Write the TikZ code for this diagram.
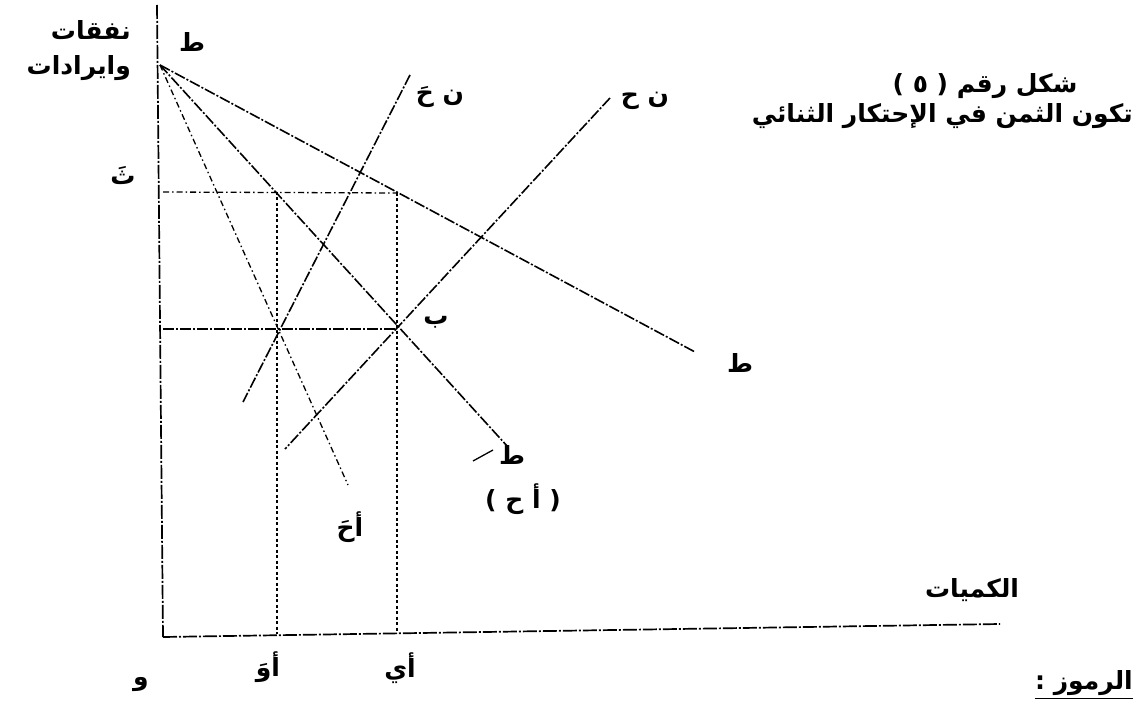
\documentclass[tikz,border=0pt]{standalone}
\usepackage{fontspec}
\newfontfamily\arabicfont[Script=Arabic]{DejaVu Sans}
\TeXXeTstate=1
\newcommand{\ar}[1]{\arabicfont\bfseries\beginR #1\endR}
\begin{document}
\begin{tikzpicture}[x=1pt,y=-1pt,
  curve/.style={line width=1.6pt,dash pattern=on 11pt off 2pt on 2pt off 2pt},
  thin curve/.style={line width=1.3pt,dash pattern=on 6pt off 3pt on 1.5pt off 3pt},
  guide/.style={line width=1.4pt,dash pattern=on 3pt off 2.5pt},
  axis/.style={line width=1.7pt,dash pattern=on 14pt off 2pt on 2pt off 2pt},
  lbl/.style={font=\fontsize{25}{28}\selectfont, inner sep=0pt}]
\useasboundingbox (0,0) rectangle (1137,711);
% key points
\coordinate (Ytop) at (157,5);
\coordinate (O) at (163,637);
\coordinate (Xend) at (1000,624);
\coordinate (T) at (160,65);
\coordinate (Dend) at (695,352);
\coordinate (MRend) at (508,447);
\coordinate (Send) at (348,485);
\coordinate (MCatop) at (410,75);
\coordinate (MCabot) at (243,402);
\coordinate (MCbtop) at (610,98);
\coordinate (MCbbot) at (285,449);
\coordinate (P1) at (163,192);
\coordinate (Q1) at (397,193);
\coordinate (P2) at (163,329);
\coordinate (B) at (397,329);
\coordinate (V1top) at (277,192);
\coordinate (V1bot) at (277,634);
\coordinate (V2bot) at (397,633);
% axes
\draw[axis] (Ytop) -- (O);
\draw[axis] (O) -- (Xend);
% curves
\draw[curve] (T) -- (Dend);
\draw[curve] (T) -- (MRend);
\draw[thin curve] (T) -- (Send);
\draw[curve] (MCatop) -- (MCabot);
\draw[curve] (MCbtop) -- (MCbbot);
% guide lines
\draw[thin curve] (P1) -- (Q1);
\draw[curve] (P2) -- (B);
\draw[guide] (V1top) -- (V1bot);
\draw[guide] (Q1) -- (V2bot);
% labels
\node[lbl,anchor=east] (l1) at (131,30) {\ar{نفقات}};
\node[lbl,anchor=east] (l2) at (131,68) {\ar{وايرادات}};
\node[lbl] (tT) at (192,42) {\ar{ط}};
\node[lbl] (th) at (123,176) {\ar{ثَ}};
\node[lbl] (mca) at (440,97) {\ar{ن حَ}};
\node[lbl] (mcb) at (645,101) {\ar{ن ح}};
\node[lbl] (t1) at (985,86) {\ar{شكل رقم ( ٥ )}};
\node[lbl,anchor=east] (t2) at (1133,116) {\ar{تكون الثمن في  الإحتكار الثنائي}};
\node[lbl] (bL) at (436,322) {\ar{ب}};
\node[lbl] (tD) at (740,363) {\ar{ط}};
\node[lbl] (tM) at (512,455) {\ar{ط}};
\coordinate (s1) at (473,461);
\coordinate (s2) at (493,450);
\draw[line width=1.3pt] (s1) -- (s2);
\node[lbl] (ah) at (523,499) {\ar{( أ ح )}};
\node[lbl] (ahp) at (350,527) {\ar{أحَ}};
\node[lbl] (qty) at (972,590) {\ar{الكميات}};
\node[lbl] (w) at (141,685) {\ar{و}};
\node[lbl] (aw) at (268,667) {\ar{أوَ}};
\node[lbl] (ay) at (400,668) {\ar{أي}};
\node[lbl,anchor=east] (rm) at (1133,683) {\ar{الرموز :}};
\draw[line width=1.2pt] ([yshift=-3pt]rm.south west) -- ([yshift=-3pt]rm.south east);
\end{tikzpicture}
\end{document}
